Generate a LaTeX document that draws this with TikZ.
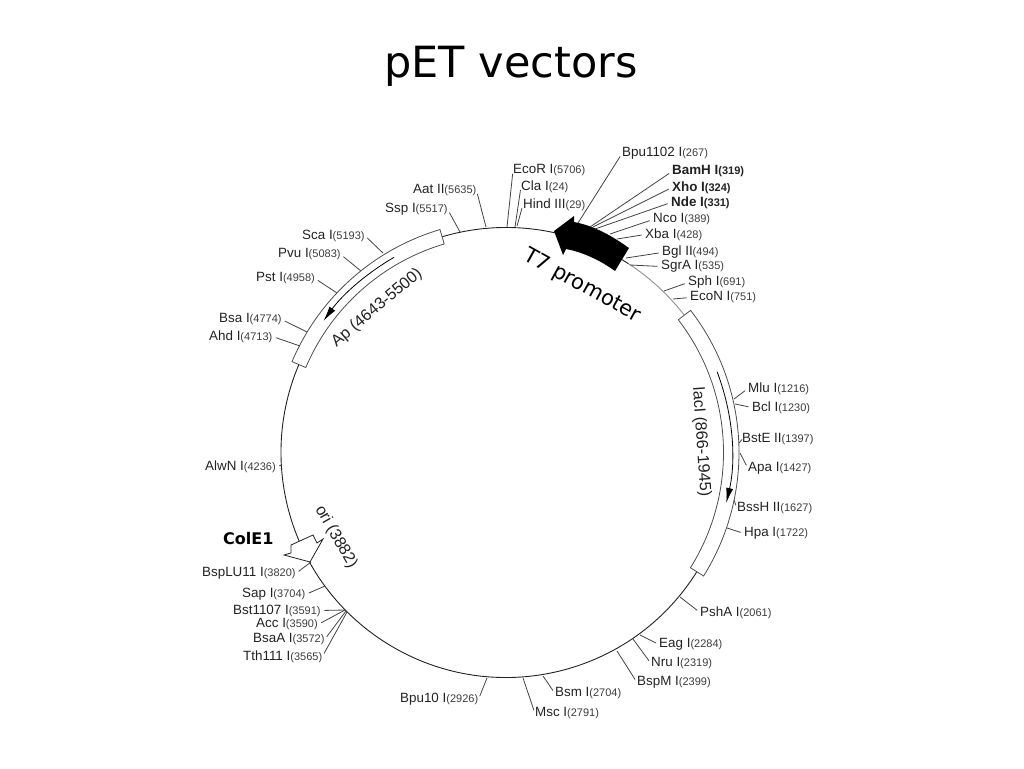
\documentclass[tikz,border=0pt]{standalone}
\usepackage{fontspec}
\setmainfont{Liberation Sans}
\newfontfamily\handfont{DejaVu Sans}
\usetikzlibrary{arrows.meta,calc}
\definecolor{ink}{HTML}{222222}
\definecolor{numink}{HTML}{3C3C3C}
\newcommand{\rs}[2]{#1{\fontsize{11}{11}\selectfont\color{numink}(#2)}}
\newcommand{\rsb}[2]{{\bfseries #1{\fontsize{11}{11}\selectfont(#2)}}}
\tikzset{
  site/.style={anchor=west,inner sep=0pt,yshift=-1.5pt,text=ink,font=\fontsize{13.4}{15}\selectfont},
  leader/.style={draw=ink!85,line width=0.8pt,shorten <=3.5pt},
  plasmid/.style={draw=ink,line width=0.9pt},
  genebox/.style={draw=ink!80,fill=white,line width=0.8pt},
  genearrow/.style={draw=black,line width=0.8pt,-{Latex[length=15pt,width=7pt]}},
  genelabel/.style={inner sep=0pt,text=ink,font=\fontsize{16.2}{18}\selectfont},
  handlabel/.style={inner sep=0pt,text=black,font=\handfont\fontsize{21}{24}\selectfont}
}
\begin{document}
\begin{tikzpicture}[x=1pt,y=-1pt]
\useasboundingbox (0,0) rectangle (1024,768);
\coordinate (O) at (506,452.5);
\node[inner sep=0pt,font=\handfont\fontsize{43}{48}\selectfont] (title) at (511,66) {pET vectors};

\draw[plasmid] ($(O)+(57:225pt)$) arc[start angle=57,end angle=397,radius=225pt];
\draw[draw=ink!50,line width=0.9pt] ($(O)+(37:225pt)$) arc[start angle=37,end angle=57,radius=225pt];

\draw[genebox] ($(O)+(106.5:232.5pt)$) arc[start angle=106.5,end angle=157,radius=232.5pt] -- ($(O)+(157:217.5pt)$) arc[start angle=157,end angle=106.5,radius=217.5pt] -- cycle;
\draw[genebox] ($(O)+(37.6:233pt)$) arc[start angle=37.6,end angle=-32,radius=233pt] -- ($(O)+(-32:217.5pt)$) arc[start angle=-32,end angle=37.6,radius=217.5pt] -- cycle;
\draw[genearrow] ($(O)+(119.8:225pt)$) arc[start angle=119.8,end angle=144.2,radius=225pt];
\draw[genearrow] ($(O)+(20.9:226pt)$) arc[start angle=20.9,end angle=-12.9,radius=226pt];
\node[genelabel,rotate=40] (ap) at (377,308) {Ap (4643-5500)};
\node[genelabel,rotate=-86] (laci) at (701,442) {lacI (866-1945)};
\node[genelabel,rotate=-60] (ori) at (336,537) {ori (3882)};

\draw[draw=ink,fill=white,line width=0.8pt] (291,545) -- (313,535) -- (317,543) -- (323,539) -- (310,562) -- (284,555) -- (291,553) -- cycle;
\fill[black] (554,231) -- (574,216) -- (574,222) .. controls (595,226) and (612,236) .. (629,248) -- (615,271) .. controls (600,260) and (582,252) .. (566,249) -- (563,255) -- cycle;
\node[handlabel,rotate=-29] (t7) at (582,286) {T7 promoter};
\node[inner sep=0pt,anchor=west,font=\handfont\bfseries\fontsize{16}{18}\selectfont] (cole1) at (223,539) {ColE1};

\node[site] (bpu1102) at (622,152) {\rs{Bpu1102 I}{267}}; \coordinate (bpu1102 cut) at (578,223); \draw[leader] (bpu1102.west) -- (bpu1102 cut);
\node[site] (bamh) at (672,170) {\rsb{BamH I}{319}}; \coordinate (bamh cut) at (590,227); \draw[leader] (bamh.west) -- (bamh cut);
\node[site] (xho) at (672,186) {\rsb{Xho I}{324}}; \coordinate (xho cut) at (593,227); \draw[leader] (xho.west) -- (xho cut);
\node[site] (nde) at (671,201) {\rsb{Nde I}{331}}; \coordinate (nde cut) at (595,229); \draw[leader] (nde.west) -- (nde cut);
\node[site] (nco) at (653,218) {\rs{Nco I}{389}}; \coordinate (nco cut) at (610,234); \draw[leader] (nco.west) -- (nco cut);
\node[site] (xba) at (645,233) {\rs{Xba I}{428}}; \coordinate (xba cut) at (617,239); \draw[leader] (xba.west) -- (xba cut);
\node[site] (bgl) at (662,251) {\rs{Bgl II}{494}}; \coordinate (bgl cut) at (626,258); \draw[leader] (bgl.west) -- (bgl cut);
\node[site] (sgra) at (661,265) {\rs{SgrA I}{535}}; \coordinate (sgra cut) at (630,265); \draw[leader] (sgra.west) -- (sgra cut);
\node[site] (sph) at (688,281) {\rs{Sph I}{691}}; \coordinate (sph cut) at (664,291); \draw[leader] (sph.west) -- (sph cut);
\node[site] (econ) at (690,296) {\rs{EcoN I}{751}}; \coordinate (econ cut) at (673,299); \draw[leader] (econ.west) -- (econ cut);

\node[site] (ecor) at (513,169) {\rs{EcoR I}{5706}}; \coordinate (ecor cut) at (507,227); \draw[leader] (ecor.west) -- (ecor cut);
\node[site] (cla) at (521,185) {\rs{Cla I}{24}}; \coordinate (cla cut) at (515,227); \draw[leader] (cla.west) -- (cla cut);
\node[site] (hind) at (523,203) {\rs{Hind III}{29}}; \coordinate (hind cut) at (517,226); \draw[leader] (hind.west) -- (hind cut);
\node[site] (aat) at (413,189) {\rs{Aat II}{5635}}; \coordinate (aat cut) at (486,227); \draw[leader] (aat.east) -- (aat cut);
\node[site] (ssp) at (385,208) {\rs{Ssp I}{5517}}; \coordinate (ssp cut) at (460,232); \draw[leader] (ssp.east) -- (ssp cut);
\node[site] (sca) at (302,234) {\rs{Sca I}{5193}}; \coordinate (sca cut) at (383,253); \draw[leader] (sca.east) -- (sca cut);
\node[site] (pvu) at (278,253) {\rs{Pvu I}{5083}}; \coordinate (pvu cut) at (361,271); \draw[leader] (pvu.east) -- (pvu cut);
\node[site] (pst) at (256,277) {\rs{Pst I}{4958}}; \coordinate (pst cut) at (337,293); \draw[leader] (pst.east) -- (pst cut);
\node[site] (bsa) at (219,318) {\rs{Bsa I}{4774}}; \coordinate (bsa cut) at (307,332); \draw[leader] (bsa.east) -- (bsa cut);
\node[site] (ahd) at (209,335) {\rs{Ahd I}{4713}}; \coordinate (ahd cut) at (300,346); \draw[leader] (ahd.east) -- (ahd cut);

\node[site] (alwn) at (205,465) {\rs{AlwN I}{4236}}; \coordinate (alwn cut) at (282,465); \draw[leader] (alwn.east) -- (alwn cut);
\node[site] (bsplu) at (202,572) {\rs{BspLU11 I}{3820}}; \coordinate (bsplu cut) at (311,562); \draw[leader] (bsplu.east) -- (bsplu cut);
\node[site] (sap) at (242,593) {\rs{Sap I}{3704}}; \coordinate (sap cut) at (325,586); \draw[leader] (sap.east) -- (sap cut);
\node[site] (bst) at (233,609) {\rs{Bst1107 I}{3591}}; \coordinate (bst cut) at (345,610); \draw[leader] (bst.east) -- (bst cut);
\node[site] (acc) at (256,623) {\rs{Acc I}{3590}}; \coordinate (acc cut) at (345,610); \draw[leader] (acc.east) -- (acc cut);
\node[site] (bsaa) at (253,638) {\rs{BsaA I}{3572}}; \coordinate (bsaa cut) at (346,611); \draw[leader] (bsaa.east) -- (bsaa cut);
\node[site] (tth) at (243,655) {\rs{Tth111 I}{3565}}; \coordinate (tth cut) at (347,612); \draw[leader] (tth.east) -- (tth cut);
\node[site] (bpu10) at (400,698) {\rs{Bpu10 I}{2926}}; \coordinate (bpu10 cut) at (487,678); \draw[leader] (bpu10.east) -- (bpu10 cut);

\node[site] (msc) at (535,712) {\rs{Msc I}{2791}}; \coordinate (msc cut) at (523,678); \draw[leader] (msc.west) -- (msc cut);
\node[site] (bsm) at (555,692) {\rs{Bsm I}{2704}}; \coordinate (bsm cut) at (543,676); \draw[leader] (bsm.west) -- (bsm cut);
\node[site] (bspm) at (637,681) {\rs{BspM I}{2399}}; \coordinate (bspm cut) at (617,651); \draw[leader] (bspm.west) -- (bspm cut);
\node[site] (nru) at (651,662) {\rs{Nru I}{2319}}; \coordinate (nru cut) at (633,639); \draw[leader] (nru.west) -- (nru cut);
\node[site] (eag) at (659,643) {\rs{Eag I}{2284}}; \coordinate (eag cut) at (640,635); \draw[leader] (eag.west) -- (eag cut);
\node[site] (psha) at (700,611) {\rs{PshA I}{2061}}; \coordinate (psha cut) at (680,597); \draw[leader] (psha.west) -- (psha cut);

\node[site] (hpa) at (744,532) {\rs{Hpa I}{1722}}; \coordinate (hpa cut) at (727,528); \draw[leader] (hpa.west) -- (hpa cut);
\node[site] (bssh) at (737,507) {\rs{BssH II}{1627}}; \coordinate (bssh cut) at (734,500); \draw[leader] (bssh.west) -- (bssh cut);
\node[site] (apa) at (748,467) {\rs{Apa I}{1427}}; \coordinate (apa cut) at (740,453); \draw[leader] (apa.west) -- (apa cut);
\node[site] (bste) at (742,438) {\rs{BstE II}{1397}}; \coordinate (bste cut) at (739,443); \draw[leader,shorten <=0pt] (bste.west) -- (bste cut);
\node[site] (bcl) at (752,406) {\rs{Bcl I}{1230}}; \coordinate (bcl cut) at (735,404); \draw[leader] (bcl.west) -- (bcl cut);
\node[site] (mlu) at (748,387) {\rs{Mlu I}{1216}}; \coordinate (mlu cut) at (734,399); \draw[leader] (mlu.west) -- (mlu cut);
\end{tikzpicture}
\end{document}
